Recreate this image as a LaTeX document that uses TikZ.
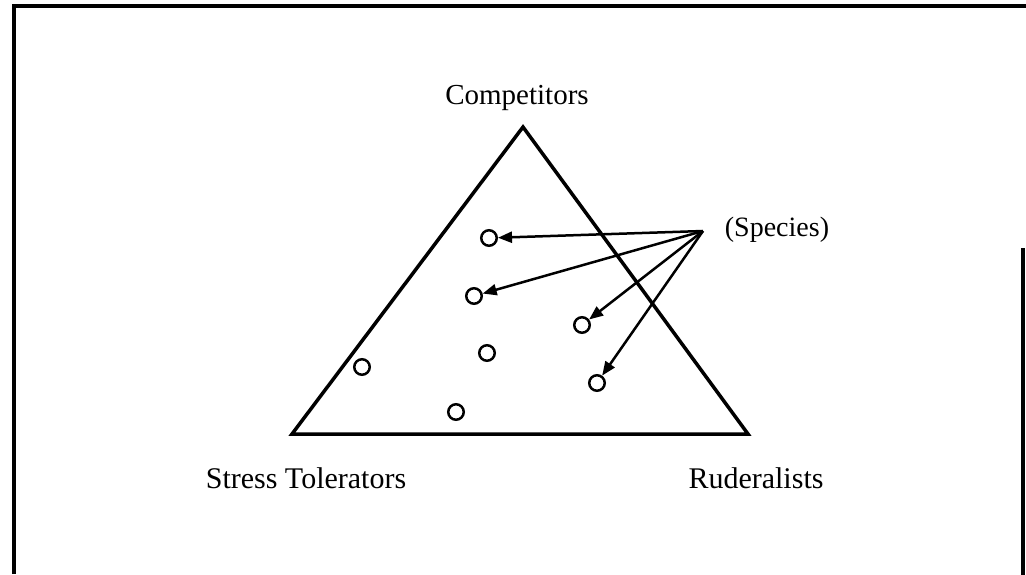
\documentclass[tikz,border=0pt]{standalone}
\usepackage{fontspec}
\setmainfont{Liberation Serif}
\usetikzlibrary{arrows.meta}
\begin{document}
\begin{tikzpicture}[x=1pt,y=-1pt,
  frameline/.style={line width=3.5pt},
  triline/.style={line width=3.5pt,line join=miter},
  spot/.style={circle,draw,line width=2.5pt,minimum size=15.5pt,inner sep=0pt},
  pointer/.style={line width=2.5pt,-{Triangle[length=14pt,width=11pt]}},
  lab/.style={font=\fontsize{30}{35}\selectfont,anchor=base,inner sep=0pt}]
\useasboundingbox (0,0) rectangle (1026,574);
\fill[white] (0,0) rectangle (1026,574);
% frame
\draw[frameline] (14,574) -- (14,6) -- (1028,6);
\draw[frameline] (1023,248) -- (1023,576);
% triangle
\coordinate (top) at (523,127);
\coordinate (bl) at (292,434);
\coordinate (br) at (748,434);
\draw[triline] (top) -- (br) -- (bl) -- cycle;
% species spots
\node[spot] (c1) at (489,238) {};
\node[spot] (c2) at (474,296) {};
\node[spot] (c3) at (487,353) {};
\node[spot] (c4) at (362,367) {};
\node[spot] (c5) at (456,412) {};
\node[spot] (c6) at (582,325) {};
\node[spot] (c7) at (597,383) {};
% labels
\node[lab,font=\fontsize{29}{34}\selectfont] (comp) at (517,104) {Competitors};
\node[lab] (stress) at (306,488) {Stress Tolerators};
\node[lab] (rud) at (756,488) {Ruderalists};
\node[lab,font=\fontsize{28}{33}\selectfont] (spec) at (777,236) {(Species)};
% arrows
\coordinate (src) at (703,231);
\draw[pointer] (src) -- (c1);
\draw[pointer] (src) -- (c2);
\draw[pointer] (src) -- (c6);
\draw[pointer] (src) -- (c7);
\end{tikzpicture}
\end{document}
